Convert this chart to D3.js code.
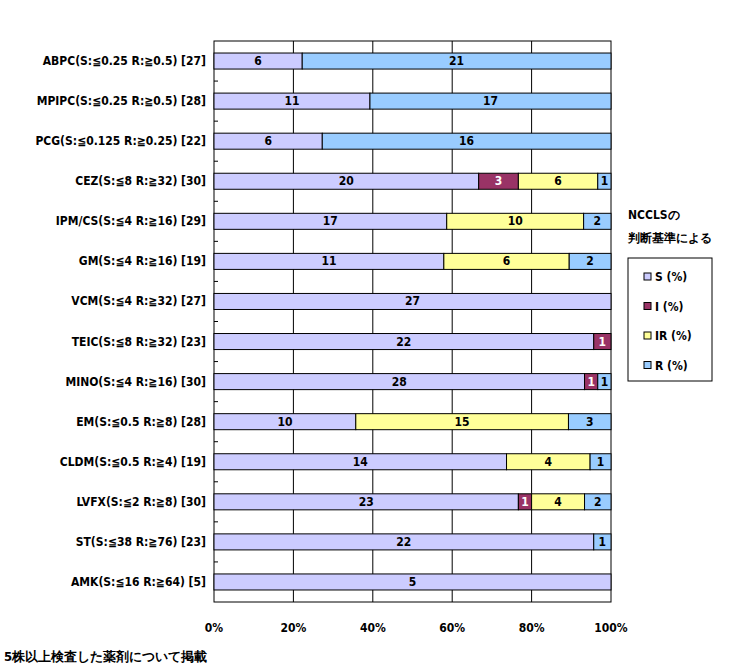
<!DOCTYPE html>
<html><head><meta charset="utf-8">
<script src="https://cdn.jsdelivr.net/npm/d3@7"></script>
<style>body{margin:0;background:#fff}text{font-family:"DejaVu Sans Condensed","DejaVu Sans",sans-serif;font-weight:bold}</style>
</head><body><div id="chart"></div>
<script>
const categories = ["ABPC(S:≦0.25 R:≧0.5) [27]","MPIPC(S:≦0.25 R:≧0.5) [28]","PCG(S:≦0.125 R:≧0.25) [22]","CEZ(S:≦8 R:≧32) [30]","IPM/CS(S:≦4 R:≧16) [29]","GM(S:≦4 R:≧16) [19]","VCM(S:≦4 R:≧32) [27]","TEIC(S:≦8 R:≧32) [23]","MINO(S:≦4 R:≧16) [30]","EM(S:≦0.5 R:≧8) [28]","CLDM(S:≦0.5 R:≧4) [19]","LVFX(S:≦2 R:≧8) [30]","ST(S:≦38 R:≧76) [23]","AMK(S:≦16 R:≧64) [5]"];
const sVals  = [6,11,6,20,17,11,27,22,28,10,14,23,22,5];
const iVals  = [0,0,0,3,0,0,0,1,1,0,0,1,0,0];
const irVals = [0,0,0,6,10,6,0,0,0,15,4,4,0,0];
const rVals  = [21,17,16,1,2,2,0,0,1,3,1,2,1,0];
const seriesNames = ["S (%)","I (%)","IR (%)","R (%)"];
const colors = ["#ccccff","#993366","#ffff99","#99ccff"];
const xTicks = [0,0.2,0.4,0.6,0.8,1];

const svg = d3.select("#chart").append("svg").attr("width",738).attr("height",672);
const pL=214,pR=611,pT=41,pB=602;
const x = d3.scaleLinear().domain([0,1]).range([pL,pR]);
const y = d3.scaleBand().domain(categories).range([pT,pB]).paddingInner(0.6).paddingOuter(0.3);
const y0 = d3.scaleBand().domain(categories).range([pT,pB]);

const rows = categories.map((c,i)=>{
  const v=[sVals[i],iVals[i],irVals[i],rVals[i]], tot=d3.sum(v);
  let acc=0; return v.map((n,k)=>{const s={cat:c,k,n,x0:acc/tot,x1:(acc+n)/tot};acc+=n;return s;});
});

// grid
svg.selectAll(".g").data(xTicks.slice(1,-1)).join("line")
  .attr("x1",d=>x(d)).attr("x2",d=>x(d)).attr("y1",pT).attr("y2",pB).attr("stroke","#000");
svg.append("rect").attr("x",pL).attr("y",pT).attr("width",pR-pL).attr("height",pB-pT)
  .attr("fill","none").attr("stroke","#000");
// left ticks between rows
svg.selectAll(".t").data(categories.slice(1)).join("line")
  .attr("x1",pL).attr("x2",pL+4).attr("y1",d=>y0(d)).attr("y2",d=>y0(d)).attr("stroke","#000");

const segs = rows.flat().filter(d=>d.n>0);
svg.selectAll(".b").data(segs).join("rect")
  .attr("x",d=>x(d.x0)).attr("y",d=>y(d.cat)).attr("width",d=>x(d.x1)-x(d.x0)).attr("height",y.bandwidth())
  .attr("fill",d=>colors[d.k]).attr("stroke","#000").attr("stroke-width",1);
svg.selectAll(".l").data(segs).join("text")
  .attr("x",d=>(x(d.x0)+x(d.x1))/2).attr("y",d=>y(d.cat)+y.bandwidth()/2+4)
  .attr("text-anchor","middle").attr("font-size",12).attr("fill",d=>d.k===1?"#fff":"#000").text(d=>d.n);

svg.selectAll(".c").data(categories).join("text")
  .attr("x",pL-8).attr("y",d=>y(d)+y.bandwidth()/2+4).attr("text-anchor","end").attr("font-size",12).text(d=>d);
svg.selectAll(".xl").data(xTicks).join("text")
  .attr("x",d=>x(d)).attr("y",632).attr("text-anchor","middle").attr("font-size",12).text(d=>Math.round(d*100)+"%");

svg.append("text").attr("x",628).attr("y",219).attr("font-size",12).text("NCCLSの");
svg.append("text").attr("x",628).attr("y",242).attr("font-size",12).text("判断基準による");
svg.append("rect").attr("x",628).attr("y",258).attr("width",84).attr("height",123).attr("fill","none").attr("stroke","#000");
const lg = svg.selectAll(".lg").data(seriesNames).join("g").attr("transform",(d,i)=>`translate(644,${278+i*29.5})`);
lg.append("rect").attr("x",0).attr("y",-5).attr("width",7).attr("height",7).attr("fill",(d,i)=>colors[i]).attr("stroke","#000");
lg.append("text").attr("x",11).attr("y",3).attr("font-size",12).text(d=>d);

svg.append("text").attr("x",4).attr("y",661).attr("font-size",13).text("5株以上検査した薬剤について掲載");
</script></body></html>
